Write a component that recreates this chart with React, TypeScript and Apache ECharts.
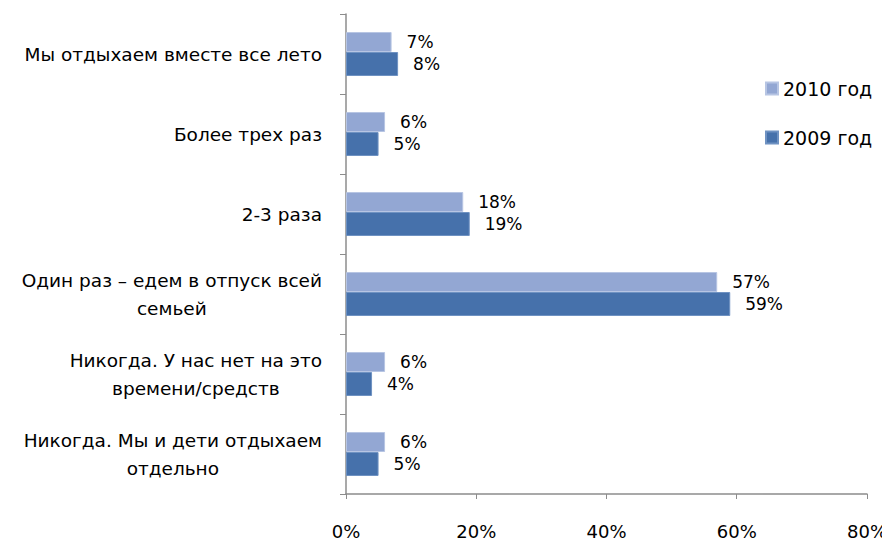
import React, { useEffect, useRef } from "react";
import * as echarts from "echarts";

const categories = [
  "Мы отдыхаем вместе все лето",
  "Более трех раз",
  "2-3 раза",
  "Один раз – едем в отпуск всей\nсемьей",
  "Никогда. У нас нет на это\nвремени/средств",
  "Никогда. Мы и дети отдыхаем\nотдельно",
];
const series2010 = [7, 6, 18, 57, 6, 6];
const series2009 = [8, 5, 19, 59, 4, 5];
const xTicks = [0, 20, 40, 60, 80];

export default function App() {
  const ref = useRef<HTMLDivElement>(null);
  useEffect(() => {
    if (!ref.current) return;
    const chart = echarts.init(ref.current, undefined, { renderer: "svg" });
    const font = "DejaVu Sans";
    chart.setOption({
      animation: false,
      grid: { left: 338, right: 21, top: 6, bottom: 48 },
      legend: {
        orient: "vertical",
        left: 752,
        top: 66,
        itemGap: 30,
        itemWidth: 12,
        itemHeight: 12,
        icon: "rect",
        textStyle: { fontFamily: font, fontSize: 19, color: "#000" },
        data: ["2010 год", "2009 год"],
      },
      xAxis: {
        type: "value",
        min: xTicks[0],
        max: xTicks[xTicks.length - 1],
        interval: 20,
        axisLine: { show: true, lineStyle: { color: "#8c8c8c", width: 1.5 } },
        axisTick: { show: true, length: 5, lineStyle: { color: "#8c8c8c" } },
        splitLine: { show: false },
        axisLabel: {
          formatter: "{value}%",
          fontFamily: font,
          fontSize: 18,
          color: "#000",
          margin: 28,
        },
      },
      yAxis: {
        type: "category",
        inverse: true,
        data: categories,
        axisLine: { show: true, lineStyle: { color: "#8c8c8c", width: 1.5 } },
        axisTick: { show: true, length: 6, lineStyle: { color: "#8c8c8c" } },
        axisLabel: {
          margin: 24,
          align: "right",
          formatter: (v: string) =>
            v
              .split("\n")
              .map((l) => "{a|" + l + "}")
              .join("\n"),
          rich: {
            a: {
              fontFamily: font,
              fontSize: 18.5,
              color: "#000",
              align: "center",
              lineHeight: 28,
            },
          },
        },
      },
      series: [
        {
          name: "2010 год",
          type: "bar",
          data: series2010,
          barWidth: 20,
          barGap: "0%",
          itemStyle: { color: "#93a7d3", borderColor: "#b7c5e3", borderWidth: 1 },
          label: {
            show: true,
            position: "right",
            distance: 15,
            formatter: "{c}%",
            fontFamily: font,
            fontSize: 17,
            color: "#000",
          },
        },
        {
          name: "2009 год",
          type: "bar",
          data: series2009,
          barWidth: 24,
          itemStyle: { color: "#4671ab", borderColor: "#6f92c2", borderWidth: 1 },
          label: {
            show: true,
            position: "right",
            distance: 15,
            formatter: "{c}%",
            fontFamily: font,
            fontSize: 17,
            color: "#000",
          },
        },
      ],
    });
    return () => chart.dispose();
  }, []);
  return <div ref={ref} style={{ width: 882, height: 534 }} />;
}
